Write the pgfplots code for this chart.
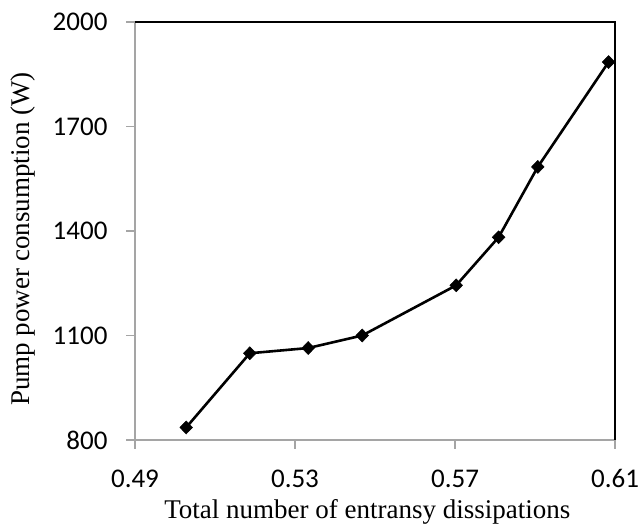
\documentclass[border=0pt]{standalone}
\usepackage{pgfplots}
\pgfplotsset{compat=1.18}
\usepackage{fontspec}
\setmainfont{Liberation Serif}
\newfontfamily\tickfont{Carlito}
\definecolor{axgray}{RGB}{165,165,165}

\begin{document}
\begin{tikzpicture}[x=1pt,y=1pt]
\useasboundingbox (0,0) rectangle (640,526);
\begin{axis}[
  at={(135pt,86pt)}, anchor=south west,
  scale only axis, width=480pt, height=418pt,
  xmin=0.49, xmax=0.61, ymin=800, ymax=2000,
  xtick={0.49,0.53,0.57,0.61},
  ytick={800,1100,1400,1700,2000},
  xticklabels={0.49,0.53,0.57,0.61},
  /pgf/number format/1000 sep={},
  /pgf/number format/assume math mode=true,
  tick label style={font=\tickfont\fontsize{27}{30}\selectfont, black},
  axis x line*=bottom, axis y line*=left,
  axis line style={axgray, line width=1.3pt, -},
  tick align=outside,
  major tick length=9pt,
  every tick/.style={axgray, line width=1.3pt},
  xticklabel style={yshift=-17pt},
  yticklabel style={xshift=-15pt},
  xlabel={Total number of entransy dissipations},
  ylabel={Pump power consumption (W)},
  label style={font=\fontsize{27}{30}\selectfont},
  xlabel style={at={(axis description cs:0.484,-0.188)}, anchor=base},
  ylabel style={at={(axis description cs:-0.2323,0.481)}, anchor=center},
  clip=false,
]
\addplot[black, line width=2.6pt, mark=diamond*, mark size=6.5pt,
  mark options={line width=0.5pt, xscale=1.3}] coordinates {
  (0.5028,836) (0.5187,1049) (0.5333,1064) (0.5468,1100)
  (0.5703,1244) (0.5809,1382) (0.5907,1584) (0.6084,1885)
};
% frame: top and right edges in black
\draw[black, line width=1.3pt]
  (axis description cs:0,1) -- (axis description cs:1,1)
  -- (axis description cs:1,0);
\end{axis}
\end{tikzpicture}
\end{document}
